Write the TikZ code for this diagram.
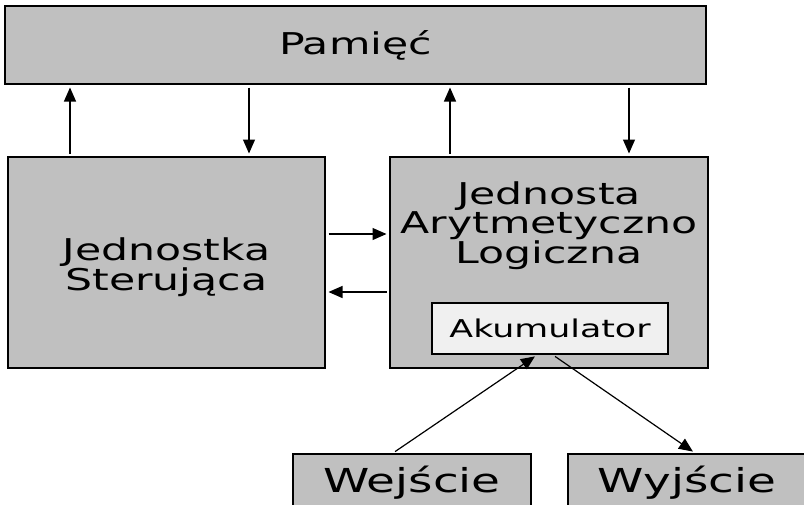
\documentclass[tikz,border=0pt]{standalone}
\usepackage{fontspec}
\setmainfont[FakeStretch=1.42]{DejaVu Sans}
\usetikzlibrary{arrows.meta}
\definecolor{boxgray}{RGB}{192,192,192}
\definecolor{accgray}{RGB}{240,240,240}

\tikzset{
  blok/.style={draw=black, line width=2pt, fill=boxgray, align=center,
    inner sep=0pt, font=\fontsize{30}{26}\selectfont},
  napis/.style={align=center, inner sep=0pt, font=\fontsize{30}{26.5}\selectfont},
  strz/.style={-{Triangle[length=14pt,width=12pt]}, line width=1.2pt,
    shorten <=2.5pt, shorten >=2.5pt}
}

\begin{document}
\begin{tikzpicture}[x=1pt,y=-1pt]

\useasboundingbox (0,0) rectangle (804,504);
\clip (0,0) rectangle (804,504);

\node[blok, minimum width=701pt, minimum height=78pt] (mem) at (355.5,45) {Pamięć};
\node[blok, minimum width=317pt, minimum height=211pt] (ctl) at (166.5,262.5) {};
\node[napis] (ctltxt) at (166.5,267) {Jednostka\\Sterująca};
\node[blok, minimum width=318pt, minimum height=211pt] (alu) at (549,262.5) {};
\node[napis] (alutxt) at (549,226) {Jednosta\\Arytmetyczno\\Logiczna};
\node[blok, fill=accgray, minimum width=236pt, minimum height=51pt,
  font=\fontsize{24.5}{26}\selectfont] (acc) at (550,328.5) {Akumulator};
\node[blok, minimum width=238pt, minimum height=58pt,
  font=\fontsize{33}{30}\selectfont] (inp) at (412,483) {Wejście};
\node[blok, minimum width=238pt, minimum height=58pt,
  font=\fontsize{33}{30}\selectfont] (out) at (687,483) {Wyjście};

% pamiec <-> jednostki
\draw[strz] ([xshift=-96.5pt]ctl.north) -- ([xshift=-96.5pt]ctl.north |- mem.south);
\draw[strz] ([xshift=82.5pt]ctl.north |- mem.south) -- ([xshift=82.5pt]ctl.north);
\draw[strz] ([xshift=-99pt]alu.north) -- ([xshift=-99pt]alu.north |- mem.south);
\draw[strz] ([xshift=80pt]alu.north |- mem.south) -- ([xshift=80pt]alu.north);

% sterowanie <-> ALU
\draw[strz] ([yshift=28.5pt]ctl.east) -- ([yshift=28.5pt]ctl.east -| alu.west);
\draw[strz] ([yshift=-29.5pt]ctl.east -| alu.west) -- ([yshift=-29.5pt]ctl.east);

% wejscie / wyjscie
\draw[strz] ([xshift=-19pt]inp.north) -- ([xshift=-13pt]acc.south);
\draw[strz] ([xshift=3pt]acc.south) -- ([xshift=8pt]out.north);

\end{tikzpicture}
\end{document}
